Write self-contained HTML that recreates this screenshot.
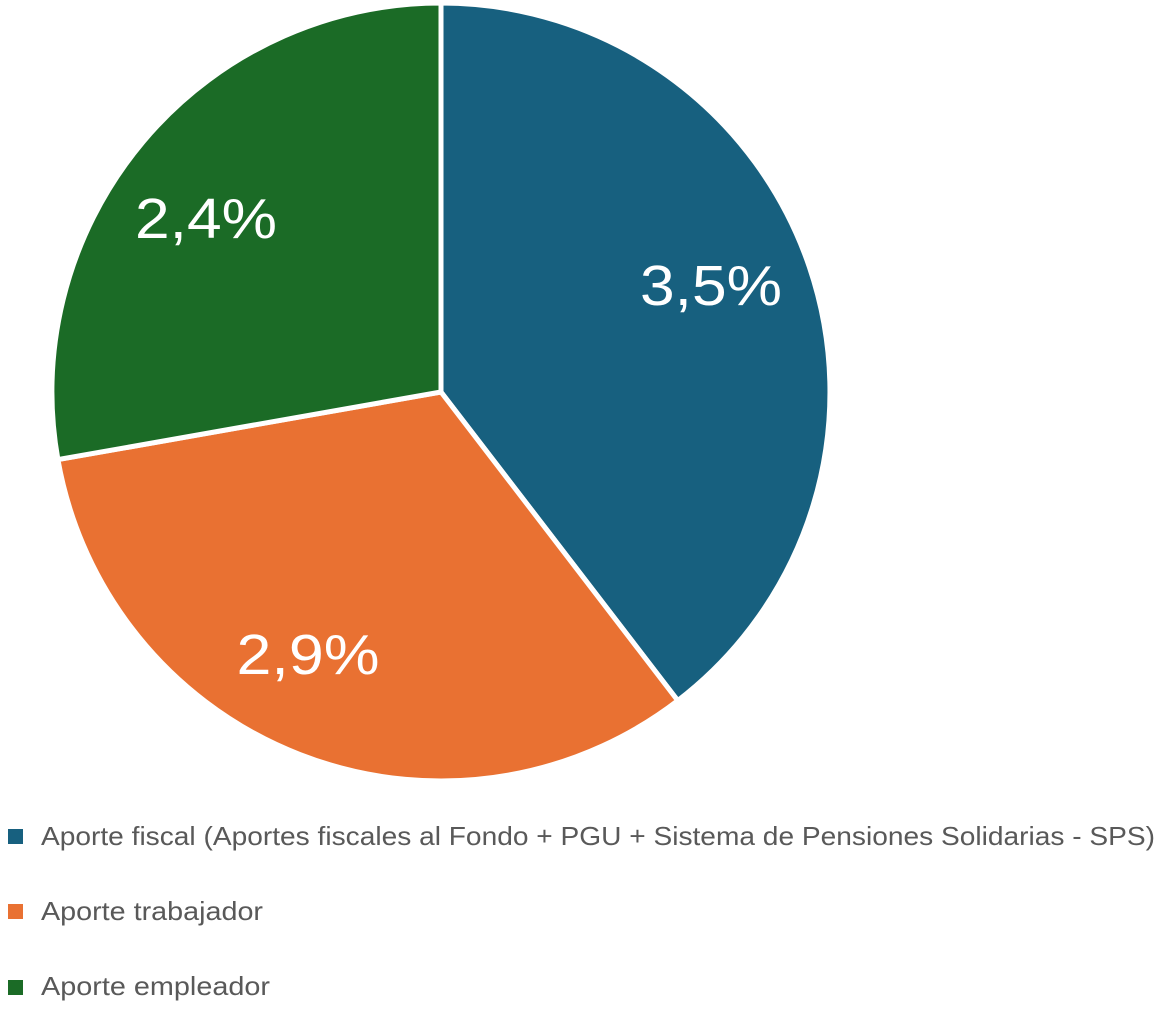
<!DOCTYPE html>
<html><head><meta charset="utf-8"><style>
html,body{margin:0;padding:0;background:#fff;width:1160px;height:1010px;overflow:hidden}
svg{display:block}
</style></head><body>
<svg width="1160" height="1010" viewBox="0 0 1160 1010" xmlns="http://www.w3.org/2000/svg" font-family="Liberation Sans, sans-serif">
<g stroke="#fff" stroke-width="5" stroke-linejoin="round">
<path d="M441,392 L441,3 A389,389 0 0,1 677.8,700.6 Z" fill="#17607f"/>
<path d="M441,392 L677.8,700.6 A389,389 0 0,1 57.9,459.6 Z" fill="#e97132"/>
<path d="M441,392 L57.9,459.6 A389,389 0 0,1 441,3 Z" fill="#1b6b26"/>
</g>
<g fill="#fff" font-size="57" text-anchor="middle" lengthAdjust="spacingAndGlyphs">
<text x="711" y="305" textLength="142" lengthAdjust="spacingAndGlyphs">3,5%</text>
<text x="206" y="238" textLength="142" lengthAdjust="spacingAndGlyphs">2,4%</text>
<text x="308" y="674" textLength="143" lengthAdjust="spacingAndGlyphs">2,9%</text>
</g>
<rect x="8" y="829" width="15" height="15" fill="#17607f"/>
<rect x="8" y="904" width="15" height="15" fill="#e97132"/>
<rect x="8" y="980" width="15" height="15" fill="#1b6b26"/>
<g fill="#595959" font-size="26">
<text x="41" y="845" textLength="1114" lengthAdjust="spacingAndGlyphs">Aporte fiscal (Aportes fiscales al Fondo + PGU + Sistema de Pensiones Solidarias - SPS)</text>
<text x="41" y="920" textLength="222" lengthAdjust="spacingAndGlyphs">Aporte trabajador</text>
<text x="41" y="995" textLength="229" lengthAdjust="spacingAndGlyphs">Aporte empleador</text>
</g>
</svg>
</body></html>
